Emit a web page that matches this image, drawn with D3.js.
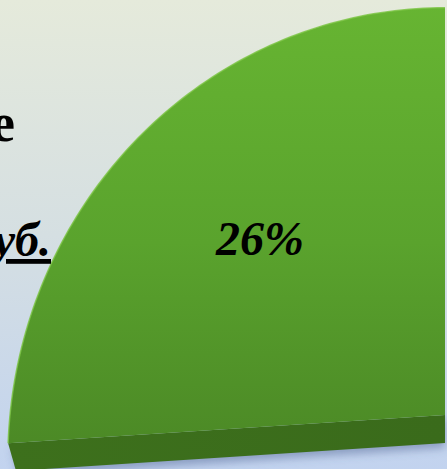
<!DOCTYPE html>
<html>
<head>
<meta charset="utf-8">
<script src="https://cdn.jsdelivr.net/npm/d3@7"></script>
<style>
  html, body { margin: 0; padding: 0; overflow: hidden; }
  svg { display: block; }
</style>
</head>
<body>
<svg id="chart" width="447" height="469"></svg>
<script>
// ---- data ----
const sliceValues = [74, 26];          // the visible slice is the 26% one
const visibleSlice = [1];              // index of the slice shown in the frame
const legendFragments = ["е", "руб."]; // cropped legend text at the left edge

// ---- setup ----
const W = 447, H = 469;
const svg = d3.select("#chart");
const defs = svg.append("defs");

const bg = defs.append("linearGradient").attr("id", "bg")
  .attr("x1", 0).attr("y1", 0).attr("x2", 0).attr("y2", 1);
bg.append("stop").attr("offset", "0%").attr("stop-color", "#e5eadb");
bg.append("stop").attr("offset", "50%").attr("stop-color", "#d5dfe2");
bg.append("stop").attr("offset", "100%").attr("stop-color", "#c2d3ef");

const topGrad = defs.append("linearGradient").attr("id", "topface")
  .attr("gradientUnits", "userSpaceOnUse")
  .attr("x1", 0).attr("y1", 0).attr("x2", 0).attr("y2", 440);
topGrad.append("stop").attr("offset", "0%").attr("stop-color", "#67b532");
topGrad.append("stop").attr("offset", "55%").attr("stop-color", "#5aa32d");
topGrad.append("stop").attr("offset", "100%").attr("stop-color", "#4c8a26");

const sideGrad = defs.append("linearGradient").attr("id", "sideface")
  .attr("x1", 0).attr("y1", 0).attr("x2", 1).attr("y2", 0);
sideGrad.append("stop").attr("offset", "0%").attr("stop-color", "#3d701c");
sideGrad.append("stop").attr("offset", "100%").attr("stop-color", "#3a6b1b");

const blur = defs.append("filter").attr("id", "shadow")
  .attr("x", "-20%").attr("y", "-20%").attr("width", "140%").attr("height", "140%");
blur.append("feGaussianBlur").attr("stdDeviation", 4);

svg.append("rect").attr("width", W).attr("height", H).attr("fill", "url(#bg)");

// ---- 3D pie projection ----
const pie = d3.pie().sort(null).startAngle(0).endAngle(2 * Math.PI);
const arcs = pie(sliceValues);

const cx = 445, cy = 415, kx = 435, ky = 448, persp = 0.1, depth = 28;
function project(theta, bottom) {
  const X = Math.sin(theta), Z = Math.cos(theta);
  const s = 1 / (1 + persp * Z);
  if (!bottom) return [cx + kx * X * s, cy - ky * Z * s];
  return [cx + kx * X * s * 0.982, cy + depth - ky * Z * s * 0.985];
}
const line = d3.line();

visibleSlice.forEach(i => {
  const a = arcs[i];
  const n = 90;
  const thetas = d3.range(n + 1).map(k => a.startAngle + (a.endAngle - a.startAngle) * k / n);
  const arcPts = thetas.map(t => project(t, false));
  const center = [cx, cy];

  const leftTop = project(a.startAngle, false);
  const leftBot = project(a.startAngle, true);
  const centerBot = [cx, cy + depth];

  // soft shadow under the slice
  svg.append("path")
    .attr("d", line([[leftTop[0] + 4, leftTop[1] + 4], [cx, cy + 4],
                     [centerBot[0], centerBot[1] + 5], [leftBot[0] + 3, leftBot[1] + 5]]) + "Z")
    .attr("fill", "rgba(70,90,140,0.45)")
    .attr("filter", "url(#shadow)");

  // front side (extrusion along the radius)
  svg.append("path")
    .attr("d", line([leftTop, center, centerBot, leftBot]) + "Z")
    .attr("fill", "url(#sideface)");

  // top face
  svg.append("path")
    .attr("d", line([center, ...arcPts]) + "Z")
    .attr("fill", "url(#topface)");

  // rim highlight along the arc
  svg.append("path")
    .attr("d", line(arcPts))
    .attr("fill", "none")
    .attr("stroke", "#7cc443")
    .attr("stroke-opacity", 0.8)
    .attr("stroke-width", 1.5);

  // label
  const total = d3.sum(sliceValues);
  svg.append("text")
    .attr("x", 260).attr("y", 255)
    .attr("text-anchor", "middle")
    .attr("font-family", "'Liberation Serif', 'Times New Roman', serif")
    .attr("font-weight", "bold")
    .attr("font-style", "italic")
    .attr("font-size", 48)
    .attr("fill", "#000")
    .text(d3.format(".0%")(a.value / total));
});

// ---- cropped legend text ----
svg.append("text")
  .attr("x", 15).attr("y", 141)
  .attr("text-anchor", "end")
  .attr("font-family", "'Liberation Serif', 'Times New Roman', serif")
  .attr("font-weight", "bold")
  .attr("font-size", 54)
  .attr("fill", "#000")
  .text(legendFragments[0]);

svg.append("text")
  .attr("x", 51).attr("y", 256)
  .attr("text-anchor", "end")
  .attr("font-family", "'Liberation Serif', 'Times New Roman', serif")
  .attr("font-weight", "bold")
  .attr("font-style", "italic")
  .attr("font-size", 48)
  .attr("text-decoration", "underline")
  .attr("fill", "#000")
  .text(legendFragments[1]);
</script>
</body>
</html>
